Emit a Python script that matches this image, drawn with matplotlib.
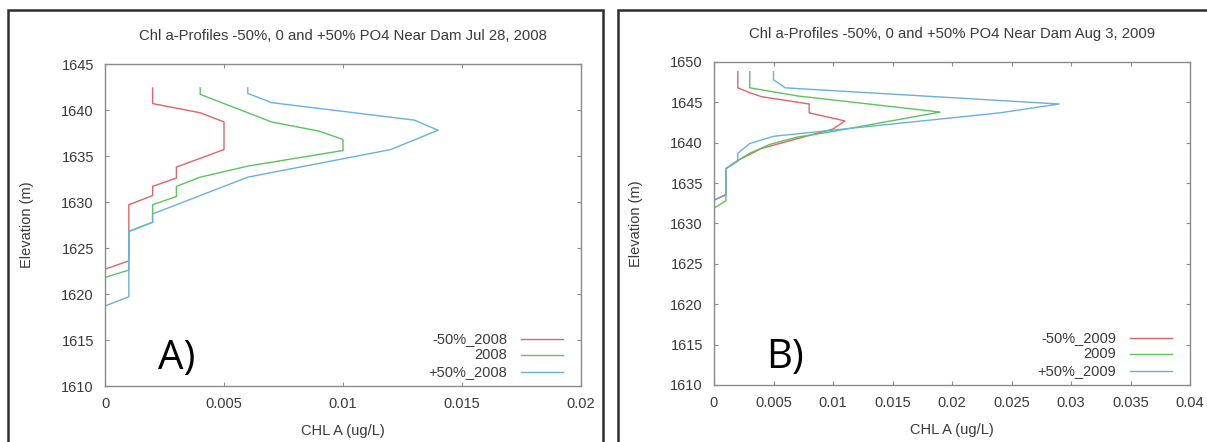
import matplotlib
matplotlib.use("Agg")
import matplotlib.pyplot as plt
from matplotlib.patches import Rectangle

plt.rcParams['font.family'] = ['Liberation Sans', 'DejaVu Sans']

# Jul 28, 2008 profiles (CHL A in ug/L vs elevation in m)
chl_m50_2008 = [0.002, 0.002, 0.004, 0.005, 0.005, 0.003, 0.003, 0.002, 0.002, 0.001, 0.001, 0.0]
elev_m50_2008 = [1642.4, 1640.7, 1639.7, 1638.7, 1635.7, 1633.8, 1632.6, 1631.7, 1630.7, 1629.7, 1623.6, 1622.7]

chl_base_2008 = [0.004, 0.004, 0.007, 0.009, 0.010, 0.010, 0.006, 0.004, 0.003, 0.003, 0.002, 0.002, 0.001, 0.001, 0.0]
elev_base_2008 = [1642.4, 1641.7, 1638.7, 1637.7, 1636.8, 1635.6, 1633.9, 1632.7, 1631.7, 1630.6, 1629.7, 1627.8, 1626.8, 1622.6, 1621.8]

chl_p50_2008 = [0.006, 0.006, 0.007, 0.013, 0.014, 0.012, 0.006, 0.002, 0.002, 0.001, 0.001, 0.0]
elev_p50_2008 = [1642.4, 1641.8, 1640.8, 1638.9, 1637.8, 1635.7, 1632.7, 1628.7, 1627.8, 1626.8, 1619.7, 1618.7]

# Aug 3, 2009 profiles
chl_m50_2009 = [0.002, 0.002, 0.003, 0.004, 0.008, 0.008, 0.011, 0.010, 0.006, 0.004, 0.002, 0.001, 0.001, 0.0]
elev_m50_2009 = [1648.8, 1646.8, 1646.2, 1645.7, 1644.8, 1643.7, 1642.7, 1641.7, 1640.1, 1639.3, 1637.8, 1636.8, 1633.6, 1632.9]

chl_base_2009 = [0.003, 0.003, 0.007, 0.019, 0.0096, 0.007, 0.0047, 0.003, 0.002, 0.001, 0.001, 0.0]
elev_base_2009 = [1648.8, 1646.8, 1645.8, 1643.8, 1641.3, 1640.7, 1639.8, 1638.7, 1637.8, 1636.8, 1632.8, 1631.9]

chl_p50_2009 = [0.005, 0.005, 0.006, 0.029, 0.024, 0.0096, 0.005, 0.003, 0.002, 0.002, 0.001, 0.001, 0.0]
elev_p50_2009 = [1648.8, 1647.8, 1646.8, 1644.8, 1643.7, 1641.5, 1640.8, 1639.9, 1638.7, 1637.7, 1636.8, 1633.5, 1632.9]

x_ticks_a = [0, 0.005, 0.01, 0.015, 0.02]
x_labels_a = ['0', '0.005', '0.01', '0.015', '0.02']
y_ticks_a = [1610, 1615, 1620, 1625, 1630, 1635, 1640, 1645]

x_ticks_b = [0, 0.005, 0.01, 0.015, 0.02, 0.025, 0.03, 0.035, 0.04]
x_labels_b = ['0', '0.005', '0.01', '0.015', '0.02', '0.025', '0.03', '0.035', '0.04']
y_ticks_b = [1610, 1615, 1620, 1625, 1630, 1635, 1640, 1645, 1650]

RED = '#e06565'
GREEN = '#5cc45c'
BLUE = '#68b0e2'
GRID = '#8a8a8a'
TXT = '#3a3a3a'


def style_axes(ax, xt, xl, yt):
    for s in ax.spines.values():
        s.set_color(GRID)
        s.set_linewidth(1.0)
    ax.set_xticks(xt)
    ax.set_xticklabels(xl)
    ax.set_yticks(yt)
    ax.set_xlim(xt[0], xt[-1])
    ax.set_ylim(yt[0], yt[-1])
    ax.tick_params(direction='in', length=3, width=0.8, color=GRID,
                   top=True, right=True, labelsize=10.5, labelcolor=TXT)
    ax.tick_params(axis='x', pad=8)
    ax.tick_params(axis='y', pad=8)


def draw_panel(ax, series, labels, title, tag, xt, xl, yt):
    for (x, y), c in zip(series, [RED, GREEN, BLUE]):
        ax.plot(x, y, color=c, lw=1.0)
    style_axes(ax, xt, xl, yt)
    ax.text(0.5, 1.088, title, transform=ax.transAxes, ha='center',
            va='center', fontsize=10.7, color=TXT)
    ax.set_xlabel('CHL A (ug/L)', fontsize=10.5, color=TXT)
    ax.set_ylabel('Elevation (m)', fontsize=10.5, color=TXT)
    ax.xaxis.set_label_coords(0.5, -0.118)
    ax.yaxis.set_label_coords(-0.15, 0.5)
    # legend: right-aligned labels with line samples on the right
    for lab, c, yy in zip(labels, [RED, GREEN, BLUE], [0.146, 0.096, 0.043]):
        ax.text(0.845, yy, lab, transform=ax.transAxes, ha='right',
                va='center', fontsize=10.5, color=TXT)
        ax.plot([0.874, 0.962], [yy, yy], transform=ax.transAxes,
                color=c, lw=1.0)
    ax.text(0.15, 0.085, tag, transform=ax.transAxes, ha='center',
            va='center', fontsize=29, family='Open Sans', color='black')


fig = plt.figure(figsize=(12.07, 4.42), dpi=100)

# panel frames
fig.patches.append(Rectangle((8 / 1207, -0.05), 595 / 1207, 1.05 - 10 / 442,
                             transform=fig.transFigure, fill=False,
                             edgecolor='#2e2e2e', lw=1.8))
fig.patches.append(Rectangle((618 / 1207, -0.05), 600 / 1207, 1.05 - 10 / 442,
                             transform=fig.transFigure, fill=False,
                             edgecolor='#2e2e2e', lw=1.8))

ax_a = fig.add_axes([105 / 1207, 56 / 442, 476 / 1207, 322 / 442])
draw_panel(ax_a,
           [(chl_m50_2008, elev_m50_2008), (chl_base_2008, elev_base_2008),
            (chl_p50_2008, elev_p50_2008)],
           ['-50%_2008', '2008', '+50%_2008'],
           'Chl a-Profiles -50%, 0 and +50% PO4 Near Dam Jul 28, 2008',
           'A)', x_ticks_a, x_labels_a, y_ticks_a)

ax_b = fig.add_axes([714 / 1207, 57 / 442, 476 / 1207, 323 / 442])
draw_panel(ax_b,
           [(chl_m50_2009, elev_m50_2009), (chl_base_2009, elev_base_2009),
            (chl_p50_2009, elev_p50_2009)],
           ['-50%_2009', '2009', '+50%_2009'],
           'Chl a-Profiles -50%, 0 and +50% PO4 Near Dam Aug 3, 2009',
           'B)', x_ticks_b, x_labels_b, y_ticks_b)

fig.savefig('out.png', dpi=100)
